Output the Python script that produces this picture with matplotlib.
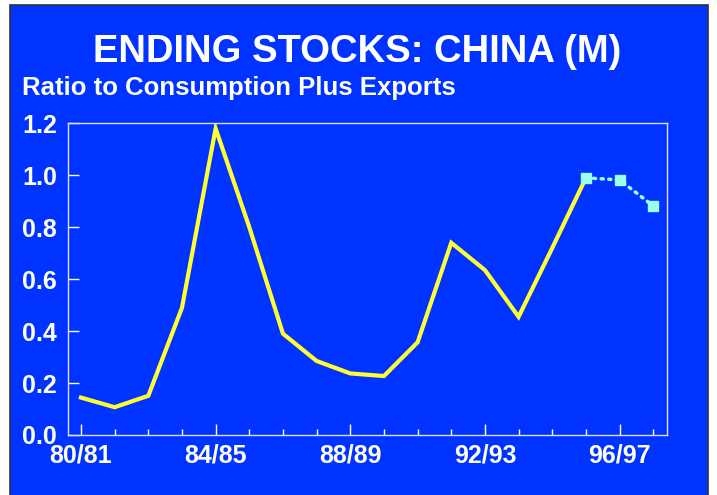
import matplotlib
matplotlib.use("Agg")
import matplotlib.pyplot as plt
from matplotlib.patches import Rectangle

# crop years 80/81 .. 97/98
years = ["80/81", "81/82", "82/83", "83/84", "84/85", "85/86", "86/87", "87/88", "88/89",
         "89/90", "90/91", "91/92", "92/93", "93/94", "94/95", "95/96", "96/97", "97/98"]
# ratio of ending stocks to consumption plus exports (actual)
ratio = [0.144, 0.107, 0.151, 0.49, 1.18, 0.80, 0.39, 0.285, 0.237,
         0.227, 0.357, 0.740, 0.635, 0.455, 0.72, 0.99]
# projected years
proj = [0.99, 0.982, 0.882]
tick_labels = ["80/81", "84/85", "88/89", "92/93", "96/97"]
y_ticks = [0.0, 0.2, 0.4, 0.6, 0.8, 1.0, 1.2]

blue = "#0033FF"
plt.rcParams['font.family'] = ['Liberation Sans', 'DejaVu Sans']

fig = plt.figure(figsize=(7.17, 4.95), dpi=100)
fig.patch.set_facecolor("white")
# blue slide panel with dark border
panel = Rectangle((10 / 717, -0.01), 698 / 717, 1 - 5 / 495 + 0.01,
                  transform=fig.transFigure, facecolor=blue,
                  edgecolor="#333333", linewidth=1.2, zorder=-10)
fig.patches.append(panel)

ax = fig.add_axes([68.3 / 717, (495 - 435) / 495, (666.7 - 68.3) / 717, (435 - 123.3) / 495])
ax.set_facecolor(blue)

x = list(range(len(years)))
ax.plot(x[:len(ratio)], ratio, color="#FFFF33", linewidth=3, solid_joinstyle="miter")
xp = x[len(ratio) - 1:]
ax.plot(xp, proj, color="#99FFEE", linewidth=2.5, linestyle=(0, (0.6, 1.6)),
        dash_capstyle="round")
ax.plot(xp, proj, linestyle="none", marker="s", markersize=7, color="#99FFEE")

ax.set_xlim(-0.377, len(years) - 1 + 0.4)
ax.set_ylim(0, 1.2)
ax.set_yticks(y_ticks)
ax.set_yticklabels(["%.1f" % v for v in y_ticks])
ax.set_xticks([years.index(t) for t in tick_labels])
ax.set_xticklabels(tick_labels)
ax.set_xticks(x, minor=True)

for s in ax.spines.values():
    s.set_color("#DDDDFF")
    s.set_linewidth(1)

ax.tick_params(axis="both", which="both", direction="in", color="white", labelcolor="white")
ax.tick_params(axis="y", length=8, width=1, pad=8, labelsize=18)
ax.tick_params(axis="x", which="major", length=8, width=1, pad=6, labelsize=18)
ax.tick_params(axis="x", which="minor", length=4, width=1)
for lbl in ax.get_xticklabels() + ax.get_yticklabels():
    lbl.set_fontweight("bold")

fig.text(357 / 717, 1 - 52 / 495, "ENDING STOCKS: CHINA (M)", color="white",
         fontsize=27.5, fontweight="bold", ha="center", va="center")
fig.text(22 / 717, 1 - 88 / 495, "Ratio to Consumption Plus Exports", color="white",
         fontsize=18.5, fontweight="bold", ha="left", va="center")

fig.savefig("out.png", dpi=100, facecolor=fig.get_facecolor())
